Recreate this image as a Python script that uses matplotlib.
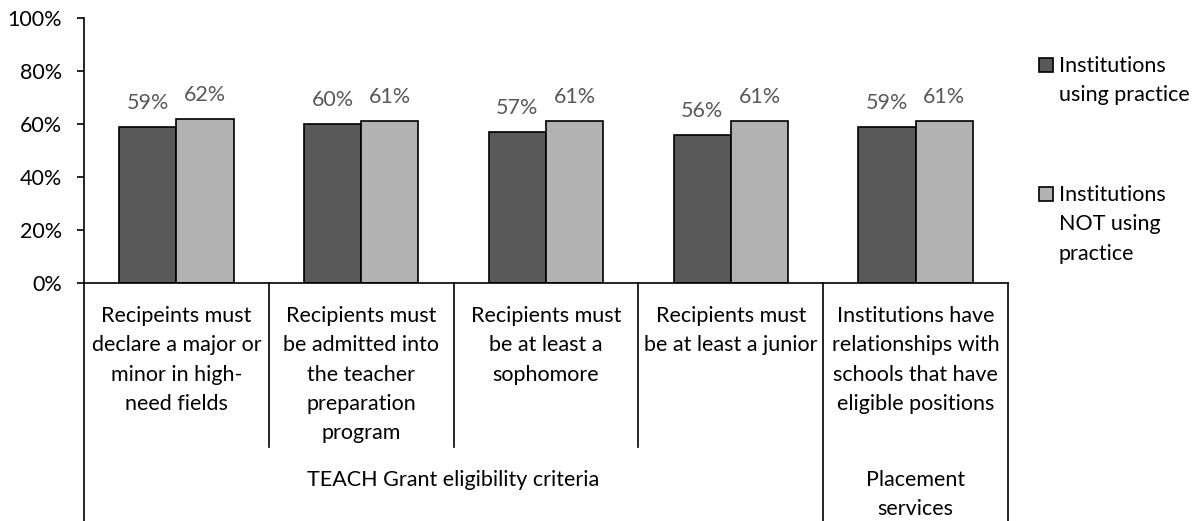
import numpy as np
import matplotlib.pyplot as plt
from matplotlib.patches import Rectangle
from matplotlib.ticker import PercentFormatter

# data
categories = [
    "Recipeints must\ndeclare a major or\nminor in high-\nneed fields",
    "Recipients must\nbe admitted into\nthe teacher\npreparation\nprogram",
    "Recipients must\nbe at least a\nsophomore",
    "Recipients must\nbe at least a junior",
    "Institutions have\nrelationships with\nschools that have\neligible positions",
]
groups = ["TEACH Grant eligibility criteria", "Placement\nservices"]
group_sizes = [4, 1]
series_names = ["Institutions\nusing practice", "Institutions\nNOT using\npractice"]
using = [59, 60, 57, 56, 59]
not_using = [62, 61, 61, 61, 61]
colors = ["#595959", "#b2b2b2"]

plt.rcParams['font.family'] = ['Lato', 'DejaVu Sans']
FS = 15.5
LS = 1.58

W, H = 1202, 521
fig = plt.figure(figsize=(W / 100, H / 100), dpi=100)
x0, x1, y0, y1 = 84, 1008, 283, 18
ax = fig.add_axes([x0 / W, 1 - y0 / H, (x1 - x0) / W, (y0 - y1) / H])

n = len(categories)
x = np.arange(n) + 0.5
bw = 0.31
for vals, col, off in [(using, colors[0], -bw / 2), (not_using, colors[1], bw / 2)]:
    bars = ax.bar(x + off, vals, bw, color=col, edgecolor='black', linewidth=1.2, zorder=3)
    for b, v in zip(bars, vals):
        ax.annotate(f"{v:.0f}%", (b.get_x() + b.get_width() / 2, v), xytext=(0, 10),
                    textcoords='offset points', ha='center', va='bottom',
                    fontsize=FS, color='#595959')

ax.set_xlim(0, n)
ax.set_ylim(0, 100)
ax.set_yticks(range(0, 101, 20))
ax.yaxis.set_major_formatter(PercentFormatter(decimals=0))
ax.tick_params(axis='y', labelsize=FS, length=5, width=1.2, direction='out', pad=11)
ax.set_xticks([])
for s in ['top', 'right']:
    ax.spines[s].set_visible(False)
ax.spines['left'].set_linewidth(1.2)
ax.spines['bottom'].set_linewidth(1.2)
ax.spines['bottom'].set_zorder(4)

# multi-level category axis below the plot
tr = ax.get_xaxis_transform()
px = 1.0 / (y0 - y1)  # one pixel in axes fraction
lvl1_bottom = -(447 - y0) * px
lvl2_bottom = -(H - y0) * px
bounds = np.cumsum([0] + group_sizes)
for i in range(n + 1):
    bottom = lvl2_bottom if i in bounds else lvl1_bottom
    ax.plot([i, i], [0, bottom], transform=tr, color='black', lw=1.2, clip_on=False)
for i, lab in enumerate(categories):
    ax.text(x[i], -(306 - y0) * px, lab, transform=tr, ha='center', va='top',
            fontsize=FS, linespacing=LS)
for g, lab in enumerate(groups):
    cx = (bounds[g] + bounds[g + 1]) / 2
    ax.text(cx, -(470 - y0) * px, lab, transform=tr, ha='center', va='top',
            fontsize=FS, linespacing=LS)

# legend
leg_y = [58, 187]
for col, name, yy in zip(colors, series_names, leg_y):
    fig.patches.append(Rectangle((1039 / W, 1 - (yy + 14) / H), 14 / W, 14 / H,
                                 transform=fig.transFigure, facecolor=col,
                                 edgecolor='black', linewidth=1.2))
    fig.text(1059 / W, 1 - (yy - 2) / H, name, ha='left', va='top', fontsize=FS,
             linespacing=LS)

fig.savefig('out.png', dpi=100)
